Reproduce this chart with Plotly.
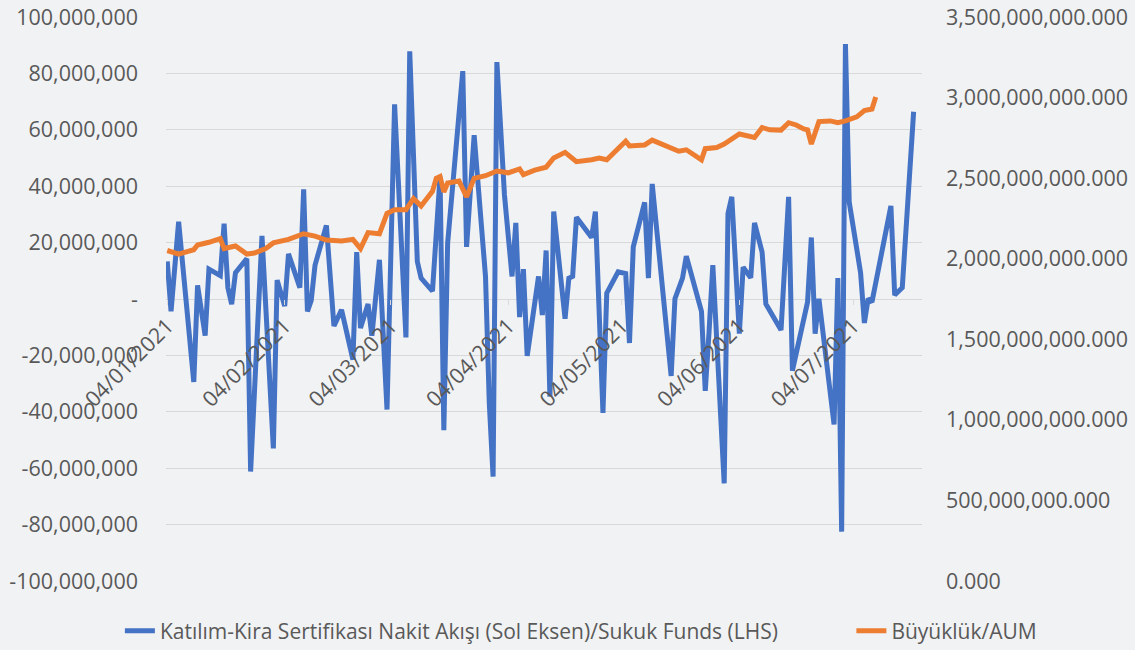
import plotly.graph_objects as go

# Blue series: Sukuk funds net flow (millions TRY)
flow_dates = [
    "2021-01-04", "2021-01-05", "2021-01-07", "2021-01-11", "2021-01-12", "2021-01-14",
    "2021-01-15", "2021-01-18", "2021-01-19", "2021-01-20", "2021-01-21", "2021-01-22",
    "2021-01-25", "2021-01-26", "2021-01-29", "2021-02-01", "2021-02-02", "2021-02-04",
    "2021-02-05", "2021-02-08", "2021-02-09", "2021-02-10", "2021-02-11", "2021-02-12",
    "2021-02-15", "2021-02-17", "2021-02-19", "2021-02-22", "2021-02-23", "2021-02-24",
    "2021-02-26", "2021-02-27", "2021-03-01", "2021-03-03", "2021-03-05", "2021-03-08",
    "2021-03-09", "2021-03-11", "2021-03-12", "2021-03-15", "2021-03-17", "2021-03-18",
    "2021-03-19", "2021-03-23", "2021-03-24", "2021-03-26", "2021-03-29", "2021-03-30",
    "2021-03-31", "2021-04-01", "2021-04-03", "2021-04-05", "2021-04-06", "2021-04-07",
    "2021-04-08", "2021-04-09", "2021-04-12", "2021-04-13", "2021-04-14", "2021-04-15",
    "2021-04-16", "2021-04-19", "2021-04-20", "2021-04-21", "2021-04-22", "2021-04-26",
    "2021-04-27", "2021-04-29", "2021-04-30", "2021-05-03", "2021-05-05", "2021-05-06",
    "2021-05-07", "2021-05-10", "2021-05-11", "2021-05-12", "2021-05-17", "2021-05-18",
    "2021-05-20", "2021-05-21", "2021-05-25", "2021-05-26", "2021-05-27", "2021-05-28",
    "2021-05-31", "2021-06-01", "2021-06-02", "2021-06-04", "2021-06-05", "2021-06-07",
    "2021-06-08", "2021-06-10", "2021-06-11", "2021-06-15", "2021-06-17", "2021-06-18",
    "2021-06-22", "2021-06-23", "2021-06-24", "2021-06-25", "2021-06-29", "2021-06-30",
    "2021-07-01", "2021-07-02", "2021-07-03", "2021-07-06", "2021-07-07", "2021-07-08",
    "2021-07-09", "2021-07-14", "2021-07-15", "2021-07-17", "2021-07-20",
]
flow_mn = [
    13.3, -4.4, 27.4, -29.4, 4.8, -13.0,
    10.6, 8.3, 26.7, 4.0, -1.8, 9.3,
    14.3, -61.2, 22.4, -53.0, 6.7, -2.5,
    16.0, 4.0, 38.9, -4.4, -0.5, 12.0,
    26.1, -9.6, -3.8, -21.5, 16.6, -10.3,
    -1.8, -13.0, 13.9, -39.2, 69.0, -13.6,
    87.8, 13.3, 7.4, 2.8, 43.4, -46.5,
    19.8, 80.8, 18.5, 58.1, 8.0, -37.0,
    -63.0, 84.0, 36.9, 8.0, 27.0, -6.4,
    10.6, -20.2, 8.0, -5.7, 17.2, -34.6,
    31.0, -7.0, 7.4, 8.0, 29.0, 21.8,
    31.0, -40.4, 2.1, 9.6, 9.0, -15.6,
    18.5, 34.3, 7.4, 40.8, -27.3, 0.1,
    7.4, 15.2, -4.4, -32.6, -11.7, 12.0,
    -65.4, 30.3, 36.2, -12.3, 11.3, 7.5,
    27.0, 16.6, -1.8, -11.0, 36.2, -25.4,
    -1.1, 21.8, -12.3, 0.1, -44.5, 7.4,
    -82.5, 90.4, 34.3, 9.3, -8.5, 0.1,
    -1.1, 33.0, 1.4, 4.0, 66.4,
]

# Orange series: AUM (billions TRY)
aum_dates = [
    "2021-01-04", "2021-01-07", "2021-01-11", "2021-01-12", "2021-01-15", "2021-01-18",
    "2021-01-19", "2021-01-22", "2021-01-25", "2021-01-27", "2021-01-30", "2021-02-01",
    "2021-02-05", "2021-02-09", "2021-02-12", "2021-02-15", "2021-02-19", "2021-02-22",
    "2021-02-24", "2021-02-26", "2021-03-01", "2021-03-03", "2021-03-05", "2021-03-08",
    "2021-03-10", "2021-03-12", "2021-03-15", "2021-03-16", "2021-03-17", "2021-03-18",
    "2021-03-19", "2021-03-22", "2021-03-24", "2021-03-26", "2021-03-29", "2021-03-31",
    "2021-04-01", "2021-04-04", "2021-04-07", "2021-04-08", "2021-04-11", "2021-04-14",
    "2021-04-16", "2021-04-19", "2021-04-22", "2021-04-26", "2021-04-28", "2021-04-30",
    "2021-05-03", "2021-05-05", "2021-05-06", "2021-05-10", "2021-05-12", "2021-05-17",
    "2021-05-19", "2021-05-21", "2021-05-25", "2021-05-26", "2021-05-29", "2021-05-31",
    "2021-06-04", "2021-06-08", "2021-06-10", "2021-06-12", "2021-06-15", "2021-06-17",
    "2021-06-19", "2021-06-21", "2021-06-22", "2021-06-23", "2021-06-25", "2021-06-28",
    "2021-06-30", "2021-07-02", "2021-07-05", "2021-07-07", "2021-07-09", "2021-07-10",
]
aum_bn = [
    2051, 2029, 2056, 2085, 2102, 2125,
    2063, 2079, 2029, 2035, 2063, 2098,
    2120, 2155, 2140, 2116, 2110, 2120,
    2063, 2162, 2155, 2281, 2304, 2304,
    2373, 2327, 2418, 2499, 2510, 2414,
    2470, 2482, 2384, 2499, 2515, 2538,
    2544, 2533, 2557, 2522, 2550, 2568,
    2625, 2660, 2602, 2614, 2625, 2614,
    2683, 2729, 2700, 2706, 2736, 2690,
    2667, 2676, 2614, 2683, 2690, 2712,
    2774, 2752, 2814, 2800, 2798, 2844,
    2830, 2805, 2800, 2712, 2851, 2855,
    2844, 2855, 2880, 2919, 2929, 3004,
]

x_tick_dates = ["2021-01-04", "2021-02-04", "2021-03-04", "2021-04-04",
                "2021-05-04", "2021-06-04", "2021-07-04"]
x_tick_labels = ["04/01/2021", "04/02/2021", "04/03/2021", "04/04/2021",
                 "04/05/2021", "04/06/2021", "04/07/2021"]

left_ticks = [100e6, 80e6, 60e6, 40e6, 20e6, 0, -20e6, -40e6, -60e6, -80e6, -100e6]
left_labels = ["100,000,000", "80,000,000", "60,000,000", "40,000,000", "20,000,000", "-",
               "-20,000,000", "-40,000,000", "-60,000,000", "-80,000,000", "-100,000,000"]
right_ticks = [0, 0.5e12, 1.0e12, 1.5e12, 2.0e12, 2.5e12, 3.0e12, 3.5e12]
right_labels = ["0.000", "500,000,000.000", "1,000,000,000.000", "1,500,000,000.000",
                "2,000,000,000.000", "2,500,000,000.000", "3,000,000,000.000",
                "3,500,000,000.000"]

FONT = "Open Sans"
GRAY = "#595959"
TICKSIZE = 21.5
LEGSIZE = 21

fig = go.Figure()
fig.add_trace(go.Scatter(
    x=flow_dates, y=[v * 1e6 for v in flow_mn], mode="lines",
    name="Katılım-Kira Sertifikası Nakit Akışı (Sol Eksen)/Sukuk Funds (LHS)",
    line=dict(color="#4472C4", width=5), yaxis="y", legend="legend"))
fig.add_trace(go.Scatter(
    x=aum_dates, y=[v * 1e9 for v in aum_bn], mode="lines",
    name="Büyüklük/AUM",
    line=dict(color="#ED7D31", width=5), yaxis="y2", legend="legend2"))

leg_common = dict(orientation="h", yanchor="middle", y=-0.0887, xanchor="left",
                  font=dict(family=FONT, size=LEGSIZE, color=GRAY),
                  bgcolor="rgba(0,0,0,0)", itemwidth=30)

fig.update_layout(
    width=1135, height=650,
    margin=dict(l=166, r=213, t=17, b=69, autoexpand=False),
    paper_bgcolor="#F1F2F4", plot_bgcolor="#F1F2F4",
    font=dict(family=FONT, size=TICKSIZE, color=GRAY),
    showlegend=True,
    legend=dict(x=-0.061, **leg_common),
    legend2=dict(x=0.9066, **leg_common),
    xaxis=dict(type="date", range=["2021-01-03 16:00", "2021-07-22 05:00"],
               tickvals=x_tick_dates, ticktext=x_tick_labels, tickangle=-45,
               anchor="free", position=0.5, showgrid=False, showline=False,
               zeroline=False, ticks="outside", ticklen=5, tickcolor="#D9D9D9",
               automargin=False, ticklabeloverflow="allow",
               tickfont=dict(family=FONT, size=TICKSIZE, color=GRAY)),
    yaxis=dict(range=[-100e6, 100e6], tickvals=left_ticks, ticktext=left_labels,
               showgrid=True, gridcolor="#D9D9D9", gridwidth=1.3, zeroline=False,
               showline=False, ticks="", automargin=False, ticklabelstandoff=27,
               ticklabeloverflow="allow",
               tickfont=dict(family=FONT, size=TICKSIZE, color=GRAY)),
    yaxis2=dict(range=[0, 3.5e12], tickvals=right_ticks, ticktext=right_labels,
                overlaying="y", side="right", showgrid=False, zeroline=False,
                showline=False, ticks="", automargin=False, ticklabelstandoff=23,
                ticklabeloverflow="allow",
                tickfont=dict(family=FONT, size=TICKSIZE, color=GRAY)),
)

fig.write_html("out.html", config={"displayModeBar": False},
               post_script="document.body.style.margin='0';")
